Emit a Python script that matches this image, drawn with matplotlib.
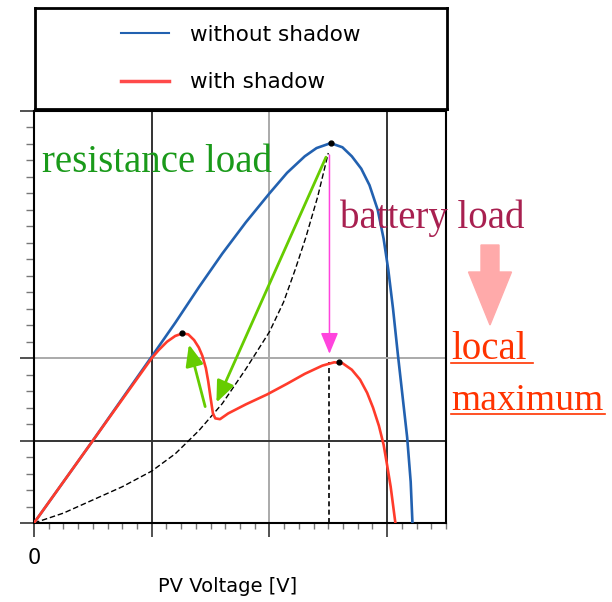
import numpy as np
import matplotlib.pyplot as plt
from matplotlib.lines import Line2D
from matplotlib.patches import FancyArrow

# --- data (x: PV voltage, y: power, arbitrary units) ---
v_clear = [0, 0.5, 1.0, 1.2, 1.4, 1.6, 1.8, 2.0, 2.15, 2.3, 2.4, 2.52, 2.62, 2.7,
           2.78, 2.85, 2.92, 2.97, 3.01, 3.05, 3.09, 3.13, 3.17, 3.2, 3.215]
p_clear = [0, 1.0, 2.02, 2.43, 2.86, 3.27, 3.65, 4.0, 4.25, 4.45, 4.55, 4.61, 4.56, 4.45,
           4.3, 4.1, 3.8, 3.45, 3.07, 2.6, 2.06, 1.55, 1.04, 0.5, 0]

v_shade = [0, 0.5, 1.0, 1.06, 1.13, 1.2, 1.26, 1.31, 1.36, 1.4, 1.43, 1.46, 1.48, 1.5,
           1.52, 1.54, 1.58, 1.65, 1.8, 1.98, 2.15, 2.3, 2.45, 2.55, 2.62, 2.7, 2.77,
           2.83, 2.88, 2.93, 2.97, 3.0, 3.03, 3.07]
p_shade = [0, 1.0, 2.0, 2.1, 2.2, 2.27, 2.3, 2.29, 2.22, 2.13, 2.03, 1.88, 1.72, 1.52,
           1.33, 1.27, 1.26, 1.33, 1.44, 1.56, 1.69, 1.81, 1.91, 1.95, 1.94, 1.86, 1.74,
           1.58, 1.4, 1.18, 0.95, 0.7, 0.44, 0]

v_load = [0, 0.25, 0.5, 0.75, 1.0, 1.2, 1.4, 1.6, 1.8, 2.0, 2.12, 2.22, 2.31, 2.41, 2.5]
p_load = [0, 0.12, 0.28, 0.44, 0.63, 0.84, 1.12, 1.45, 1.87, 2.32, 2.68, 3.08, 3.47, 3.96, 4.49]

peaks_v = [2.52, 1.26, 2.59]
peaks_p = [4.61, 2.30, 1.95]

v_mpp = 2.51          # battery operating voltage
p_mpp_shade = 1.95

fig = plt.figure(figsize=(6.12, 6.02), dpi=100)
ax = fig.add_axes([34/612, 79/602, 412/612, 412/602])

blue = '#2261b0'
red = '#ff3b2b'
green = '#66cc00'

# grid (alternating dark / grey)
for x, c in [(1, '#333333'), (2, '#aaaaaa'), (3, '#333333')]:
    ax.axvline(x, color=c, lw=1.4, zorder=1)
for y, c in [(1, '#333333'), (2, '#aaaaaa')]:
    ax.axhline(y, color=c, lw=1.4, zorder=1)

ax.plot(v_load, p_load, color='black', lw=1.0, ls=(0, (4, 2)), zorder=2)
ax.plot([v_mpp, v_mpp], [0, p_mpp_shade], color='black', lw=1.2, ls=(0, (3, 2)), zorder=2)
ax.plot(v_clear, p_clear, color=blue, lw=1.9, zorder=3, label='without shadow')
ax.plot(v_shade, p_shade, color=red, lw=1.9, zorder=3, label='with shadow')
ax.plot(peaks_v, peaks_p, 'o', color='black', ms=3.5, zorder=5)

# arrows
ax.annotate('', xy=(v_mpp, 2.02), xytext=(v_mpp, 4.5),
            arrowprops=dict(arrowstyle='-|>,head_length=0.65,head_width=0.27',
                            color='#ff44dd', lw=1.1, mutation_scale=20), zorder=4)
ax.annotate('', xy=(1.54, 1.43), xytext=(2.49, 4.47),
            arrowprops=dict(arrowstyle='-|>,head_length=0.65,head_width=0.27',
                            color=green, lw=2.0, mutation_scale=20), zorder=4)
ax.annotate('', xy=(1.31, 2.2), xytext=(1.46, 1.38),
            arrowprops=dict(arrowstyle='-|>,head_length=0.65,head_width=0.27',
                            color=green, lw=2.0, mutation_scale=20), zorder=4)

ax.set_xlim(0, 3.5)
ax.set_ylim(0, 5)
ax.set_xticks([0, 1, 2, 3])
ax.set_xticklabels(['0', '', '', ''], fontsize=15)
ax.set_xticks(np.arange(0, 3.51, 0.125), minor=True)
ax.set_yticks([0, 1, 2, 5])
ax.set_yticklabels([])
ax.set_yticks(np.arange(0, 5.01, 0.2), minor=True)
ax.tick_params(which='major', length=10, width=1.2, color='#333333', pad=8)
ax.tick_params(which='minor', length=4.5, width=1.0, color='#777777')
ax.tick_params(axis='y', which='minor', length=5.5)
for s in ax.spines.values():
    s.set_linewidth(1.5)
ax.set_xlabel('PV Voltage [V]', fontsize=14)
ax.xaxis.set_label_coords(0.47, -0.13)

# legend box above the plot
lax = fig.add_axes([35/612, 493/602, 412/612, 101/602])
lax.set_xticks([])
lax.set_yticks([])
for s in lax.spines.values():
    s.set_linewidth(2)
h = [Line2D([], [], color=blue, lw=1.5), Line2D([], [], color='#ff4a4a', lw=2.5)]
lax.legend(h, ['without shadow', 'with shadow'], loc='center', frameon=False,
           fontsize=15.5, handlelength=2.2, handletextpad=1.0, labelspacing=1.3)

# annotations
serif = 'Liberation Serif'
fig.text(42/612, 1 - 172/602, 'resistance load', color='#1a9a1a', fontsize=28,
         family=serif, va='baseline')
fig.text(340/612, 1 - 228/602, 'battery load', color='#a82050', fontsize=28,
         family=serif, va='baseline')
fig.text(451/612, 1 - 359/602, 'local', color='#ff3300', fontsize=28,
         family=serif, va='baseline')
fig.text(451/612, 1 - 410/602, 'maximum', color='#ff3300', fontsize=27,
         family=serif, va='baseline')
fig.add_artist(Line2D([451/612, 533/612], [1 - 363/602, 1 - 363/602],
                      color='#ff3300', lw=1.2))
fig.add_artist(Line2D([451/612, 605/612], [1 - 414/602, 1 - 414/602],
                      color='#ff3300', lw=1.2))

fig.patches.append(FancyArrow(490/612, 1 - 245/602, 0, -80/602, width=18/612,
                              head_width=43/612, head_length=53/602,
                              length_includes_head=True, color='#ffaaaa',
                              transform=fig.transFigure, figure=fig))

fig.savefig('out.png', dpi=100)
